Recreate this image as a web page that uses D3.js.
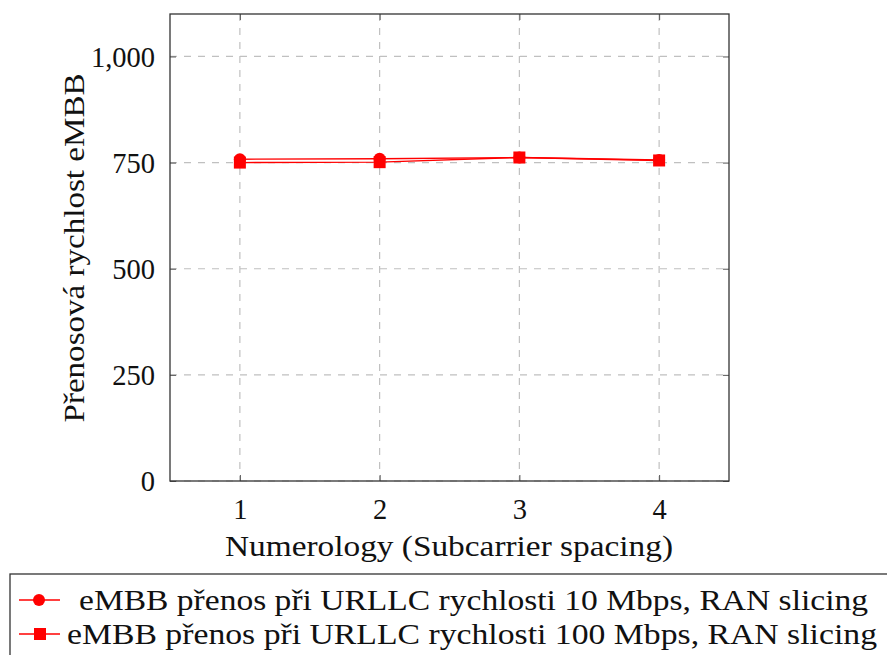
<!DOCTYPE html>
<html><head><meta charset="utf-8">
<script src="https://cdn.jsdelivr.net/npm/d3@7"></script>
<style>body{margin:0;background:#fff;} text{font-family:"Liberation Serif","DejaVu Serif",serif;}</style>
</head><body>
<svg id="c" width="887" height="655"></svg>
<script>
const categories = [1, 2, 3, 4];
const seriesA = [758, 759, 762, 756];
const seriesB = [750, 751, 762, 755];
const yTicks = [0, 250, 500, 750, 1000];
const seriesNames = ["eMBB přenos při URLLC rychlosti 10 Mbps, RAN slicing",
                     "eMBB přenos při URLLC rychlosti 100 Mbps, RAN slicing"];
const xLabel = "Numerology (Subcarrier spacing)";
const yLabel = "Přenosová rychlost eMBB";

const svg = d3.select("#c");
const L = 170, R = 729, T = 14, B = 481;
const x = d3.scaleLinear().domain([0.5, 4.5]).range([L, R]);
const y = d3.scaleLinear().domain([0, 1100]).range([B, T]);
const fs = 28.5;
const ff = '"Liberation Serif","DejaVu Serif",serif';

// grid
svg.append("g").selectAll("line").data(categories).join("line")
  .attr("x1", d => x(d)).attr("x2", d => x(d)).attr("y1", T).attr("y2", B)
  .attr("stroke", "#c0c0c0").attr("stroke-dasharray", "7,7").attr("stroke-width", 1.2);
svg.append("g").selectAll("line").data(yTicks).join("line")
  .attr("x1", L).attr("x2", R).attr("y1", d => y(d)).attr("y2", d => y(d))
  .attr("stroke", "#c0c0c0").attr("stroke-dasharray", "7,7").attr("stroke-width", 1.2);

// axes
const xa = svg.append("g").attr("transform", `translate(0,${B})`)
  .call(d3.axisBottom(x).tickValues(categories).tickSize(-6).tickPadding(18).tickFormat(d3.format("d")));
const xt = svg.append("g").attr("transform", `translate(0,${T})`)
  .call(d3.axisTop(x).tickValues(categories).tickSize(-6).tickFormat(""));
const ya = svg.append("g").attr("transform", `translate(${L},0)`)
  .call(d3.axisLeft(y).tickValues(yTicks).tickSize(-6).tickPadding(15).tickFormat(d3.format(",")));
const yr = svg.append("g").attr("transform", `translate(${R},0)`)
  .call(d3.axisRight(y).tickValues(yTicks).tickSize(-6).tickFormat(""));
[xa, xt, ya, yr].forEach(g => {
  g.select(".domain").remove();
  g.selectAll("line").attr("stroke", "#555").attr("stroke-width", 1);
  g.selectAll("text").attr("font-size", fs).attr("fill", "#111").style("font-family", ff);
});
ya.selectAll("text").attr("dy", "0.35em");
svg.append("rect").attr("x", L).attr("y", T).attr("width", R - L).attr("height", B - T)
  .attr("fill", "none").attr("stroke", "#333").attr("stroke-width", 1.3);

// labels
svg.append("text").attr("x", 449).attr("y", 556).attr("text-anchor", "middle")
  .attr("font-size", fs).attr("fill", "#111")
  .attr("textLength", 448).attr("lengthAdjust", "spacingAndGlyphs").text(xLabel);
svg.append("text").attr("transform", `translate(84,248) rotate(-90)`)
  .attr("text-anchor", "middle").attr("font-size", fs).attr("fill", "#111")
  .attr("textLength", 349).attr("lengthAdjust", "spacingAndGlyphs").text(yLabel);

// series
const line = d3.line().x((d, i) => x(categories[i])).y(d => y(d));
[seriesA, seriesB].forEach(s => {
  svg.append("path").datum(s).attr("d", line).attr("fill", "none").attr("stroke", "red").attr("stroke-width", 1.4);
});
svg.append("g").selectAll("circle").data(seriesA).join("circle")
  .attr("cx", (d, i) => x(categories[i])).attr("cy", d => y(d)).attr("r", 6).attr("fill", "red");
svg.append("g").selectAll("rect").data(seriesB).join("rect")
  .attr("x", (d, i) => x(categories[i]) - 6).attr("y", d => y(d) - 6)
  .attr("width", 12).attr("height", 12).attr("fill", "red");

// legend
svg.append("rect").attr("x", 10).attr("y", 574).attr("width", 900).attr("height", 100)
  .attr("fill", "white").attr("stroke", "#333").attr("stroke-width", 1.3);
const rows = [600, 634];
const textSpan = [[79, 868], [67, 877]];
seriesNames.forEach((n, k) => {
  const ry = rows[k];
  svg.append("line").attr("x1", 19).attr("x2", 60).attr("y1", ry).attr("y2", ry)
    .attr("stroke", "red").attr("stroke-width", 1.4);
  if (k === 0) svg.append("circle").attr("cx", 39).attr("cy", ry).attr("r", 6).attr("fill", "red");
  else svg.append("rect").attr("x", 34).attr("y", ry - 6).attr("width", 12).attr("height", 12).attr("fill", "red");
  const [a, b] = textSpan[k];
  svg.append("text").attr("x", (a + b) / 2).attr("y", ry + 10).attr("text-anchor", "middle")
    .attr("font-size", fs).attr("fill", "#111")
    .attr("textLength", b - a).attr("lengthAdjust", "spacingAndGlyphs").text(n);
});
</script>
</body></html>
